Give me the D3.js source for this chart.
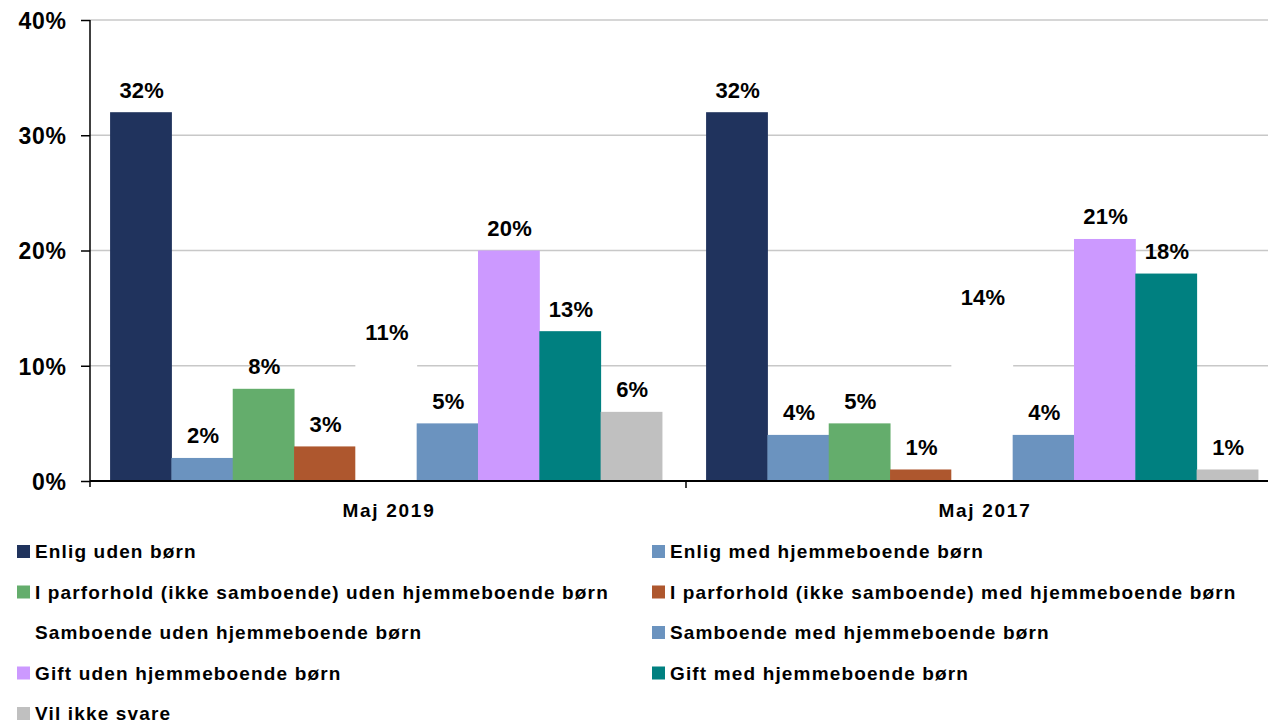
<!DOCTYPE html>
<html>
<head>
<meta charset="utf-8">
<script src="https://cdn.jsdelivr.net/npm/d3@7"></script>
<style>
  html, body { margin: 0; padding: 0; background: #fff; }
  svg { display: block; font-family: "Liberation Sans", Arial, sans-serif; font-weight: bold; }
</style>
</head>
<body>
<svg id="chart" width="1268" height="724"></svg>
<script>
// Survey periods (x-axis groups)
const periods = ["Maj 2019", "Maj 2017"];

// Household status categories (one bar per category in each period)
const seriesNames = [
  "Enlig uden børn",
  "Enlig med hjemmeboende børn",
  "I parforhold (ikke samboende) uden hjemmeboende børn",
  "I parforhold (ikke samboende) med hjemmeboende børn",
  "Samboende uden hjemmeboende børn",
  "Samboende med hjemmeboende børn",
  "Gift uden hjemmeboende børn",
  "Gift med hjemmeboende børn",
  "Vil ikke svare"
];

// Shares in percent, in the order of seriesNames
const values2019 = [32, 2, 8, 3, 11, 5, 20, 13, 6];
const values2017 = [32, 4, 5, 1, 14, 4, 21, 18, 1];

const seriesColors = [
  "#20335d", "#6b93bf", "#64ad6c", "#ae572e", "#ffffff",
  "#6b93bf", "#cc99ff", "#008080", "#c0c0c0"
];

const yTicks = [0, 10, 20, 30, 40];

const valuesByPeriod = { "Maj 2019": values2019, "Maj 2017": values2017 };

const svg = d3.select("#chart");
const plot = { left: 90, right: 1282, top: 20, bottom: 481 };

const y = d3.scaleLinear().domain([0, 40]).range([plot.bottom, plot.top]);
const x0 = d3.scaleBand().domain(periods).range([plot.left, plot.right]).padding(0);
const x1 = d3.scaleBand().domain(d3.range(seriesNames.length))
  .range([0, x0.bandwidth()]).paddingInner(0).paddingOuter(0.36).align(0.455);

// Horizontal gridlines
svg.append("g")
  .selectAll("line")
  .data(yTicks.filter(d => d > 0))
  .join("line")
  .attr("x1", plot.left).attr("x2", plot.right)
  .attr("y1", d => y(d)).attr("y2", d => y(d))
  .attr("stroke", "#c8c8c8").attr("stroke-width", 1.5);

// Bars
const groups = svg.append("g")
  .selectAll("g")
  .data(periods)
  .join("g")
  .attr("transform", p => `translate(${x0(p)},0)`);

groups.selectAll("rect")
  .data(p => valuesByPeriod[p].map((v, i) => ({ v, i })))
  .join("rect")
  .attr("x", d => x1(d.i))
  .attr("width", x1.bandwidth() + 0.5)
  .attr("y", d => y(d.v))
  .attr("height", d => y(0) - y(d.v))
  .attr("fill", d => seriesColors[d.i]);

// Value labels
groups.selectAll("text")
  .data(p => valuesByPeriod[p].map((v, i) => ({ v, i })))
  .join("text")
  .attr("x", d => x1(d.i) + x1.bandwidth() / 2 + 1)
  .attr("y", d => y(d.v) - 14.5)
  .attr("text-anchor", "middle")
  .attr("font-size", 22)
  .attr("letter-spacing", 0.2)
  .attr("fill", "#000")
  .text(d => d.v + "%");

// Y axis
const yAxis = d3.axisLeft(y).tickValues(yTicks).tickFormat(d => d + "%").tickSize(9).tickPadding(15);
const gy = svg.append("g").attr("transform", `translate(${plot.left},0)`).call(yAxis);
gy.select(".domain").remove();
gy.append("line").attr("x1", 0).attr("x2", 0).attr("y1", plot.top).attr("y2", plot.bottom + 6)
  .attr("stroke", "#000").attr("stroke-width", 1.5);
gy.selectAll(".tick line").attr("stroke", "#000").attr("stroke-width", 1.5);
gy.selectAll(".tick text")
  .attr("font-size", 23).attr("font-weight", "bold").attr("letter-spacing", 0.8)
  .attr("dx", 0.8).attr("dy", "0.36em")
  .attr("font-family", "'Liberation Sans', Arial, sans-serif").attr("fill", "#000");

// X axis baseline with separators between periods
svg.append("line")
  .attr("x1", plot.left).attr("x2", plot.right)
  .attr("y1", y(0)).attr("y2", y(0))
  .attr("stroke", "#000").attr("stroke-width", 2);
svg.append("g")
  .selectAll("line")
  .data(periods.slice(1))
  .join("line")
  .attr("x1", p => x0(p)).attr("x2", p => x0(p))
  .attr("y1", y(0)).attr("y2", y(0) + 7)
  .attr("stroke", "#000").attr("stroke-width", 1.5);

svg.append("g")
  .selectAll("text")
  .data(periods)
  .join("text")
  .attr("x", p => x0(p) + x0.bandwidth() / 2 + 1)
  .attr("y", 517)
  .attr("text-anchor", "middle")
  .attr("font-size", 19)
  .attr("letter-spacing", 1.7)
  .attr("fill", "#000")
  .text(p => p);

// Legend: two columns, rows filled left to right
const legendCols = [17, 652];
const legendRowY = [558, 598.5, 639, 679.5, 720];
const legend = svg.append("g")
  .selectAll("g")
  .data(seriesNames)
  .join("g")
  .attr("transform", (d, i) => `translate(${legendCols[i % 2]},${legendRowY[Math.floor(i / 2)]})`);
legend.append("rect")
  .attr("x", 0).attr("y", -13).attr("width", 13).attr("height", 13)
  .attr("fill", (d, i) => seriesColors[i]);
legend.append("text")
  .attr("x", 18).attr("y", 0)
  .attr("font-size", 19)
  .attr("letter-spacing", 1.15)
  .attr("fill", "#000")
  .text(d => d);
</script>
</body>
</html>
